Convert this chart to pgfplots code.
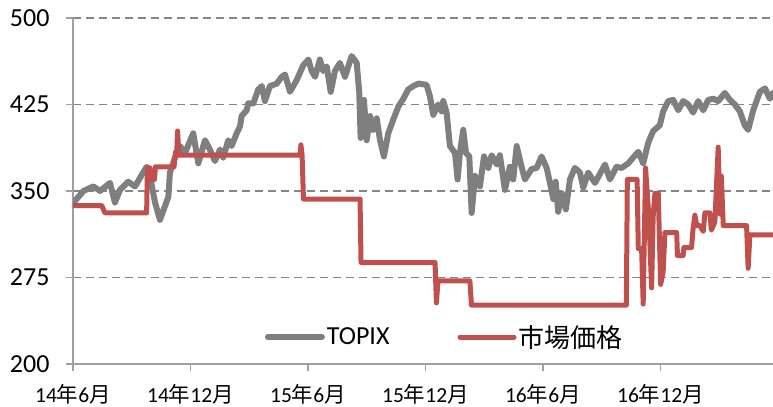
\documentclass[border=0pt]{standalone}
\usepackage{fontspec}
\setmainfont{Carlito}
\newfontfamily\cjk{Noto Sans CJK JP}
\usepackage{pgfplots}
\pgfplotsset{compat=1.18}
\definecolor{topix}{HTML}{7F7F7F}
\definecolor{mkt}{HTML}{C0504D}
\definecolor{gridc}{HTML}{868686}
\definecolor{axc}{HTML}{A0A0A0}
\newcommand{\nen}{{\cjk 年}}
\newcommand{\tsuki}{{\cjk 月}}
\begin{document}
\begin{tikzpicture}
\useasboundingbox (-73bp,-43bp) rectangle (700bp,364bp);
\begin{axis}[
  scale only axis, width=700bp, height=346bp,
  xmin=0, xmax=35.75, ymin=200, ymax=500,
  axis x line=bottom, axis y line=left,
  axis line style={-, draw=axc, line width=1.2bp},
  ytick={200,275,350,425,500},
  xtick={0,6,12,18,24,30},
  xticklabels={14\nen 6\tsuki, 14\nen 12\tsuki, 15\nen 6\tsuki, 15\nen 12\tsuki, 16\nen 6\tsuki, 16\nen 12\tsuki},
  tick align=outside, major tick length=7bp,
  tick style={draw=axc, line width=1.2bp},
  ymajorgrids, grid style={draw=gridc, dash pattern=on 8bp off 5bp, line width=1.3bp},
  /pgf/number format/assume math mode=true,
  yticklabel style={font=\fontsize{26bp}{30bp}\selectfont, xshift=-13bp},
  xticklabel style={font=\fontsize{21.5bp}{24bp}\selectfont, yshift=-10bp},
  legend columns=2,
  legend style={draw=none, fill=none, at={(0.531,0.078)}, anchor=center,
    font=\fontsize{26bp}{30bp}\selectfont,
    /tikz/every even column/.append style={column sep=66bp}},
  legend image code/.code={\draw[#1] (0bp,0bp) -- (54bp,0bp);},
]
\addplot[topix, line width=6bp, line join=round, line cap=round] coordinates {
(0.02,339.7) (0.53,350) (1.04,354) (1.38,350) (1.89,357) (2.14,340) (2.40,351)
(2.82,358) (3.17,354) (3.51,364) (3.76,371) (3.93,363) (4.19,340) (4.44,325)
(4.70,337) (4.87,345) (4.95,366) (5.21,379) (5.46,389) (5.72,383) (6.14,400)
(6.40,374) (6.74,394) (6.99,386) (7.25,376) (7.51,386) (7.67,379) (7.93,394)
(8.10,389) (8.36,400) (8.53,406) (8.61,415) (8.87,420) (8.95,426) (9.21,426)
(9.46,438) (9.64,441) (9.80,428) (10.06,441) (10.40,443) (10.66,449) (10.83,451)
(11.08,436) (11.42,446) (11.76,459) (12.02,464) (12.19,454) (12.36,449) (12.61,464)
(12.78,454) (12.96,458) (13.16,436) (13.38,454) (13.63,461) (13.89,449) (14.23,467)
(14.49,461) (14.62,435) (14.69,396) (14.86,429) (15.00,394) (15.17,415) (15.33,403)
(15.51,413) (15.68,394) (15.88,380) (16.10,400) (16.36,412) (16.61,423) (16.87,430)
(17.12,438) (17.38,441) (17.63,443) (17.72,443) (18.06,442) (18.23,432) (18.40,416)
(18.65,425) (18.83,419) (18.91,428) (19.08,418) (19.25,389) (19.51,383) (19.64,360)
(19.76,383) (19.93,403) (20.07,383) (20.24,380) (20.36,331) (20.53,363) (20.78,354)
(20.99,380) (21.21,370) (21.38,381) (21.64,373) (21.80,381) (22.06,351) (22.31,371)
(22.48,360) (22.66,389) (22.91,371) (23.08,360) (23.42,369) (23.68,370) (23.93,380)
(24.19,370) (24.36,357) (24.53,343) (24.65,358) (24.78,332) (24.96,348) (25.17,334)
(25.38,360) (25.63,370) (25.89,366) (26.06,353) (26.31,366) (26.66,357) (27.17,373)
(27.42,360) (27.76,371) (28.02,370) (28.36,374) (28.61,379) (28.87,384) (29.12,374)
(29.38,392) (29.63,402) (29.97,407) (30.14,419) (30.40,428) (30.65,429) (30.91,420)
(31.16,428) (31.42,425) (31.67,418) (31.93,428) (32.19,420) (32.44,429) (32.70,430)
(32.95,428) (33.29,435) (33.55,429) (33.80,425) (34.06,419) (34.31,407) (34.48,403)
(34.74,420) (35.08,436) (35.34,439) (35.59,430) (35.75,435)
};
\addlegendentry{TOPIX}
\addplot[mkt, line width=5bp, line join=round, line cap=round] coordinates {
(0,337.4) (1.47,337.4) (1.63,331) (3.76,331) (3.80,370) (3.93,370) (3.98,360)
(4.16,360) (4.21,371) (5.16,371) (5.24,384) (5.30,384) (5.34,402) (5.41,381)
(11.59,381) (11.64,390) (11.70,381) (11.77,343) (14.66,343) (14.71,288) (18.49,288)
(18.56,253) (18.64,272) (20.27,272) (20.35,251) (28.26,251) (28.31,360) (28.81,360)
(28.87,300) (29.04,300) (29.12,252) (29.24,370) (29.41,328) (29.55,266) (29.63,328)
(29.72,348) (29.89,348) (30.01,269) (30.14,280) (30.23,314) (30.83,314) (30.87,294)
(31.16,294) (31.20,301) (31.59,301) (31.66,316) (31.76,329) (31.86,320) (32.01,320)
(32.19,315) (32.27,331) (32.53,331) (32.60,316) (32.78,323) (32.95,388) (33.04,330)
(33.11,363) (33.21,320) (34.40,320) (34.48,283) (34.57,312) (35.75,312)
};
\addlegendentry{{\cjk 市場価格}}
\end{axis}
\end{tikzpicture}
\end{document}
